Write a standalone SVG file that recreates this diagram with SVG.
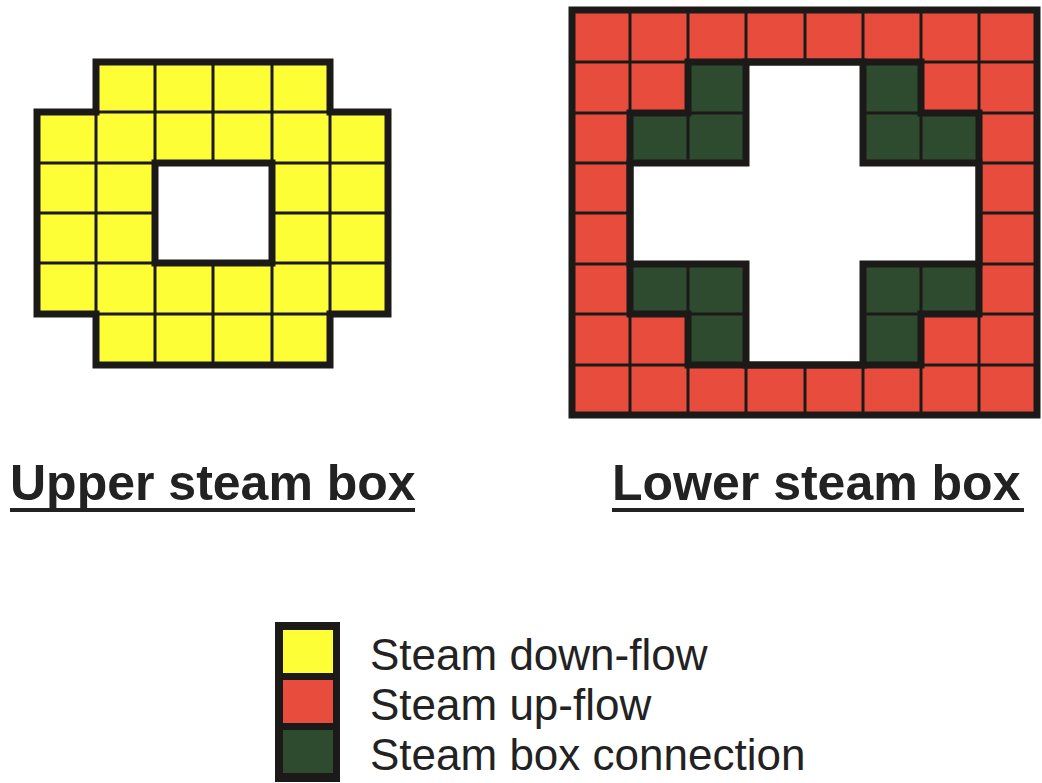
<svg xmlns="http://www.w3.org/2000/svg" width="1042" height="783" viewBox="0 0 1042 783">
<style>
.y{fill:#FEFE36}
.r{fill:#E84C3D}
.g{fill:#2E4A2F}
.thin{stroke:#1c1a18;stroke-width:3;fill:none}
.thick{stroke:#1c1a18;stroke-width:7;fill:none;stroke-linejoin:miter}
.title{font-family:"Liberation Sans",Arial,sans-serif;font-weight:bold;font-size:50px;fill:#222}
.leg{font-family:"Liberation Sans",Arial,sans-serif;font-size:44px;fill:#222}
</style>
<rect width="1042" height="783" fill="#fff"/>
<g id="upper-steam-box">
<path class="y" d="M96,62H330V112H388V314H330V365H96V314H37V112H96Z"/>
<rect x="155" y="163" width="117" height="100" fill="#fff"/>
<path class="thin" d="M155,62V163M213,62V163M272,62V163M96,112V314M330,112V314M155,263V365M213,263V365M272,263V365M96,112H330M37,163H155M272,163H388M37,213H155M272,213H388M37,263H155M272,263H388M96,314H330"/>
<path class="thick" d="M96,62H330V112H388V314H330V365H96V314H37V112H96Z"/>
<rect class="thick" x="155" y="163" width="117" height="100"/>
</g>
<g id="lower-steam-box">
<rect class="r" x="572" y="10" width="465" height="405"/>
<path class="g" d="M688,62H921V113H979V314H921V365H688V314H630V113H688Z"/>
<path fill="#fff" d="M746,62H863V163H979V264H863V365H746V264H630V163H746Z"/>
<path class="thin" d="M630,10V415M688,10V415M746,10V62M805,10V62M863,10V62M921,10V415M979,10V415M746,365V415M805,365V415M863,365V415M572,62H1037M572,113H1037M572,163H1037M572,213H630M979,213H1037M572,264H1037M572,314H1037M572,365H1037"/>
<path fill="#fff" d="M746,62H863V163H979V264H863V365H746V264H630V163H746Z"/>
<rect class="thick" x="572" y="10" width="465" height="405"/>
<path class="thick" d="M688,62H921V113H979V314H921V365H688V314H630V113H688Z"/>
<path class="thick" d="M746,62H863V163H979V264H863V365H746V264H630V163H746Z"/>
</g>
<g id="titles">
<text class="title" x="10" y="500">Upper steam box</text>
<rect x="10" y="508" width="405" height="4" fill="#222"/>
<text class="title" x="612" y="500">Lower steam box</text>
<rect x="612" y="508" width="412" height="4" fill="#222"/>
</g>
<g id="legend">
<rect x="275" y="622" width="65" height="160" fill="#1c1a18"/>
<rect class="y" x="283" y="630" width="50" height="43"/>
<rect class="r" x="283" y="680" width="50" height="43"/>
<rect class="g" x="283" y="730" width="50" height="43"/>
<text class="leg" x="370" y="670">Steam down-flow</text>
<text class="leg" x="370" y="720">Steam up-flow</text>
<text class="leg" x="370" y="770">Steam box connection</text>
</g>
</svg>
